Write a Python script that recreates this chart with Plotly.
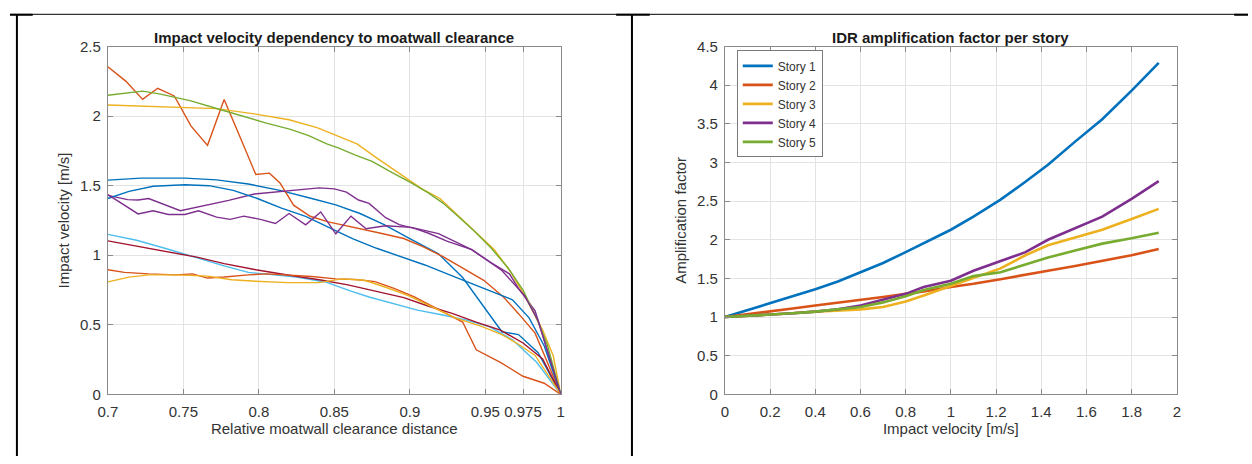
import plotly.graph_objects as go

# ---------------- Left chart data (Relative clearance vs impact velocity) ----------------
x_orange_hi = [0.700, 0.712, 0.723, 0.733, 0.744, 0.755, 0.766, 0.777, 0.786, 0.798, 0.807, 0.814, 0.823,
               0.834, 0.846, 0.864, 0.880, 0.896, 0.909, 0.922, 0.935, 0.949, 0.962, 0.972, 0.983, 1.000]
y_orange_hi = [2.355, 2.25, 2.12, 2.20, 2.145, 1.93, 1.79, 2.12, 1.89, 1.58, 1.59, 1.52, 1.36,
               1.28, 1.24, 1.20, 1.16, 1.12, 1.06, 0.99, 0.91, 0.82, 0.70, 0.58, 0.44, 0.0]

x_green = [0.700, 0.711, 0.723, 0.734, 0.755, 0.772, 0.789, 0.805, 0.821, 0.833, 0.845, 0.853, 0.864,
           0.875, 0.888, 0.901, 0.912, 0.922, 0.933, 0.943, 0.954, 0.965, 0.975, 0.983, 0.991, 1.000]
y_green = [2.15, 2.165, 2.18, 2.16, 2.11, 2.055, 2.0, 1.95, 1.905, 1.86, 1.80, 1.77, 1.72,
           1.675, 1.595, 1.52, 1.45, 1.375, 1.27, 1.17, 1.05, 0.91, 0.75, 0.57, 0.36, 0.0]

x_yellow_hi = [0.700, 0.740, 0.772, 0.799, 0.820, 0.839, 0.852, 0.865, 0.878, 0.892, 0.908, 0.920, 0.929,
               0.943, 0.956, 0.967, 0.977, 0.988, 0.995, 1.000]
y_yellow_hi = [2.08, 2.066, 2.054, 2.013, 1.974, 1.916, 1.858, 1.80, 1.70, 1.593, 1.477, 1.408, 1.316,
               1.177, 1.039, 0.877, 0.692, 0.462, 0.277, 0.0]

x_blue_a = [0.700, 0.722, 0.751, 0.772, 0.793, 0.814, 0.835, 0.851, 0.867, 0.883, 0.900, 0.919, 0.935,
            0.948, 0.961, 0.972, 0.985, 1.000]
y_blue_a = [1.54, 1.554, 1.554, 1.542, 1.512, 1.466, 1.408, 1.362, 1.30, 1.22, 1.12, 1.01, 0.84,
            0.645, 0.45, 0.43, 0.30, 0.0]

x_blue_b = [0.700, 0.714, 0.730, 0.751, 0.767, 0.783, 0.799, 0.815, 0.831, 0.847, 0.862, 0.878, 0.894,
            0.910, 0.926, 0.942, 0.958, 0.968, 0.979, 0.989, 1.000]
y_blue_b = [1.408, 1.459, 1.496, 1.507, 1.50, 1.466, 1.408, 1.339, 1.28, 1.20, 1.12, 1.05, 0.99,
            0.93, 0.86, 0.79, 0.72, 0.68, 0.55, 0.35, 0.0]

x_purple_a = [0.700, 0.713, 0.720, 0.727, 0.748, 0.764, 0.780, 0.797, 0.814, 0.827, 0.840, 0.850, 0.858,
              0.866, 0.873, 0.884, 0.893, 0.904, 0.912, 0.925, 0.941, 0.954, 0.966, 0.972, 0.983, 1.000]
y_purple_a = [1.43, 1.40, 1.397, 1.408, 1.32, 1.357, 1.394, 1.44, 1.458, 1.47, 1.484, 1.477, 1.454,
              1.397, 1.373, 1.27, 1.22, 1.19, 1.16, 1.10, 1.04, 0.946, 0.866, 0.762, 0.60, 0.0]

x_purple_b = [0.700, 0.720, 0.730, 0.740, 0.751, 0.760, 0.772, 0.781, 0.790, 0.801, 0.811, 0.820, 0.831,
              0.841, 0.851, 0.861, 0.871, 0.884, 0.901, 0.919, 0.941, 0.961, 0.976, 0.985, 1.000]
y_purple_b = [1.436, 1.297, 1.32, 1.293, 1.293, 1.32, 1.274, 1.258, 1.281, 1.258, 1.228, 1.30, 1.219,
              1.311, 1.154, 1.281, 1.19, 1.212, 1.20, 1.155, 1.04, 0.89, 0.71, 0.53, 0.0]

x_light_blue = [0.700, 0.719, 0.740, 0.759, 0.777, 0.793, 0.809, 0.825, 0.844, 0.860, 0.873, 0.889, 0.905,
                0.921, 0.937, 0.953, 0.968, 0.984, 1.000]
y_light_blue = [1.15, 1.108, 1.043, 0.981, 0.923, 0.877, 0.861, 0.843, 0.808, 0.745, 0.70, 0.655, 0.605,
                0.572, 0.535, 0.485, 0.392, 0.231, 0.0]

x_dark_red = [0.700, 0.719, 0.740, 0.759, 0.777, 0.798, 0.820, 0.841, 0.859, 0.878, 0.896, 0.912, 0.928,
              0.944, 0.960, 0.975, 0.988, 1.000]
y_dark_red = [1.103, 1.066, 1.027, 0.986, 0.94, 0.896, 0.856, 0.822, 0.787, 0.739, 0.695, 0.635, 0.582,
              0.519, 0.462, 0.369, 0.254, 0.0]

x_orange_lo = [0.700, 0.711, 0.727, 0.745, 0.756, 0.766, 0.777, 0.793, 0.806, 0.819, 0.835, 0.851, 0.864,
               0.877, 0.890, 0.903, 0.916, 0.927, 0.935, 0.944, 0.960, 0.975, 0.989, 1.000]
y_orange_lo = [0.896, 0.877, 0.866, 0.859, 0.866, 0.836, 0.843, 0.859, 0.866, 0.859, 0.847, 0.830, 0.826,
               0.81, 0.76, 0.70, 0.625, 0.56, 0.52, 0.32, 0.23, 0.13, 0.08, 0.0]

x_yellow_lo = [0.700, 0.714, 0.727, 0.745, 0.766, 0.782, 0.798, 0.819, 0.840, 0.855, 0.870, 0.884, 0.899,
               0.915, 0.930, 0.947, 0.961, 0.972, 0.983, 1.000]
y_yellow_lo = [0.808, 0.843, 0.859, 0.859, 0.85, 0.824, 0.813, 0.803, 0.803, 0.83, 0.82, 0.77, 0.71,
               0.63, 0.55, 0.49, 0.43, 0.36, 0.28, 0.0]

left_x_ticks = [0.7, 0.75, 0.8, 0.85, 0.9, 0.95, 0.975, 1.0]
left_x_ticktext = ["0.7", "0.75", "0.8", "0.85", "0.9", "0.95", "0.975", "1"]

# ---------------- Right chart data (IDR amplification factor) ----------------
impact_velocity = [0.0, 0.1, 0.2, 0.3, 0.4, 0.5, 0.6, 0.7, 0.8, 0.88, 1.0, 1.1, 1.22, 1.33, 1.43, 1.55, 1.67, 1.8, 1.92]
story_1 = [1.0, 1.09, 1.18, 1.27, 1.36, 1.46, 1.58, 1.70, 1.84, 1.96, 2.13, 2.30, 2.52, 2.75, 2.97, 3.27, 3.56, 3.93, 4.29]
story_2 = [1.0, 1.035, 1.07, 1.11, 1.15, 1.185, 1.22, 1.26, 1.30, 1.33, 1.39, 1.43, 1.49, 1.55, 1.60, 1.66, 1.73, 1.80, 1.88]
story_3 = [1.0, 1.015, 1.03, 1.05, 1.07, 1.085, 1.10, 1.13, 1.20, 1.28, 1.40, 1.50, 1.63, 1.80, 1.93, 2.03, 2.13, 2.27, 2.40]
story_4 = [1.0, 1.015, 1.03, 1.05, 1.07, 1.10, 1.15, 1.22, 1.30, 1.39, 1.47, 1.60, 1.72, 1.84, 2.00, 2.15, 2.30, 2.53, 2.76]
story_5 = [1.0, 1.015, 1.03, 1.05, 1.07, 1.10, 1.13, 1.19, 1.27, 1.35, 1.43, 1.53, 1.58, 1.68, 1.77, 1.86, 1.95, 2.02, 2.09]
story_names = ["Story 1", "Story 2", "Story 3", "Story 4", "Story 5"]

# MATLAB default colour order
C_BLUE, C_ORANGE, C_YELLOW, C_PURPLE, C_GREEN, C_LBLUE, C_DRED = (
    "#0072BD", "#D95319", "#EDB120", "#7E2F8E", "#77AC30", "#4DBEEE", "#A2142F")

W, H = 1252, 464
FONT = "Liberation Sans, Arial, Helvetica, sans-serif"
TXT = "#333333"

fig = go.Figure()

left_series = [
    (x_blue_a, y_blue_a, C_BLUE),
    (x_orange_hi, y_orange_hi, C_ORANGE),
    (x_yellow_hi, y_yellow_hi, C_YELLOW),
    (x_purple_a, y_purple_a, C_PURPLE),
    (x_green, y_green, C_GREEN),
    (x_light_blue, y_light_blue, C_LBLUE),
    (x_dark_red, y_dark_red, C_DRED),
    (x_blue_b, y_blue_b, C_BLUE),
    (x_orange_lo, y_orange_lo, C_ORANGE),
    (x_yellow_lo, y_yellow_lo, C_YELLOW),
    (x_purple_b, y_purple_b, C_PURPLE),
]
for xs, ys, col in left_series:
    fig.add_trace(go.Scatter(x=xs, y=ys, mode="lines", line=dict(color=col, width=1.4),
                             showlegend=False, xaxis="x", yaxis="y"))

for name, ys, col in zip(story_names, [story_1, story_2, story_3, story_4, story_5],
                         [C_BLUE, C_ORANGE, C_YELLOW, C_PURPLE, C_GREEN]):
    fig.add_trace(go.Scatter(x=impact_velocity, y=ys, mode="lines", name=name,
                             line=dict(color=col, width=2.6), xaxis="x2", yaxis="y2"))

ydom = [(H - 400) / H, (H - 39) / H]
axis_common = dict(
    showline=True, linecolor="#8a8a8a", linewidth=1, mirror="ticks",
    ticks="inside", ticklen=5, tickcolor="#8a8a8a", tickwidth=1,
    showgrid=True, gridcolor="#e3e3e3", gridwidth=1, zeroline=False,
    tickfont=dict(family=FONT, size=15, color=TXT),
    title_font=dict(family=FONT, size=15, color=TXT),
)
xaxis_extra = dict(ticklabelstandoff=4)
yaxis_extra = dict(ticklabelstandoff=3)

fig.update_layout(
    width=W, height=H,
    margin=dict(l=0, r=0, t=0, b=0),
    paper_bgcolor="white", plot_bgcolor="white",
    font=dict(family=FONT, color=TXT),
    xaxis=dict(domain=[99 / W, 557 / W], range=[0.7, 1.0], tickvals=left_x_ticks,
               ticktext=left_x_ticktext, title=dict(text="Relative moatwall clearance distance", standoff=4),
               **axis_common, **xaxis_extra),
    yaxis=dict(domain=ydom, range=[0, 2.5], dtick=0.5, anchor="x",
               title=dict(text="Impact velocity [m/s]", standoff=6), **axis_common, **yaxis_extra),
    xaxis2=dict(domain=[723 / W, 1180 / W], range=[0, 2], dtick=0.2, anchor="y2",
                title=dict(text="Impact velocity [m/s]", standoff=4), **axis_common, **xaxis_extra),
    yaxis2=dict(domain=ydom, range=[0, 4.5], dtick=0.5, anchor="x2",
                title=dict(text="Amplification factor", standoff=6), **axis_common, **yaxis_extra),
    legend=dict(x=735 / W, y=1 - 43 / H, xanchor="left", yanchor="top",
                bgcolor="white", bordercolor="#7a7a7a", borderwidth=1,
                font=dict(family=FONT, size=12, color=TXT), tracegroupgap=0),
    annotations=[
        dict(text="<b>Impact velocity dependency to moatwall clearance</b>", x=(99 + 557) / 2 / W,
             y=1 - 30 / H, xref="paper", yref="paper", showarrow=False,
             font=dict(family=FONT, size=15, color="#1a1a1a"), xanchor="center", yanchor="middle"),
        dict(text="<b>IDR amplification factor per story</b>", x=(723 + 1180) / 2 / W,
             y=1 - 30 / H, xref="paper", yref="paper", showarrow=False,
             font=dict(family=FONT, size=15, color="#1a1a1a"), xanchor="center", yanchor="middle"),
    ],
    shapes=[
        # table borders
        dict(type="line", xref="paper", yref="paper", x0=0, x1=1, y0=1 - 5.5 / H, y1=1 - 5.5 / H,
             line=dict(color="black", width=1)),
        dict(type="line", xref="paper", yref="paper", x0=0, x1=23 / W, y0=1 - 6 / H, y1=1 - 6 / H,
             line=dict(color="black", width=2)),
        dict(type="line", xref="paper", yref="paper", x0=613 / W, x1=647 / W, y0=1 - 6 / H, y1=1 - 6 / H,
             line=dict(color="black", width=2)),
        dict(type="line", xref="paper", yref="paper", x0=1238 / W, x1=1, y0=1 - 6 / H, y1=1 - 6 / H,
             line=dict(color="black", width=2)),
        dict(type="line", xref="paper", yref="paper", x0=7 / W, x1=7 / W, y0=1 - 6 / H, y1=0,
             line=dict(color="black", width=2)),
        dict(type="line", xref="paper", yref="paper", x0=629 / W, x1=629 / W, y0=1 - 6 / H, y1=0,
             line=dict(color="black", width=2)),
    ],
)

fig.write_html("out.html")
